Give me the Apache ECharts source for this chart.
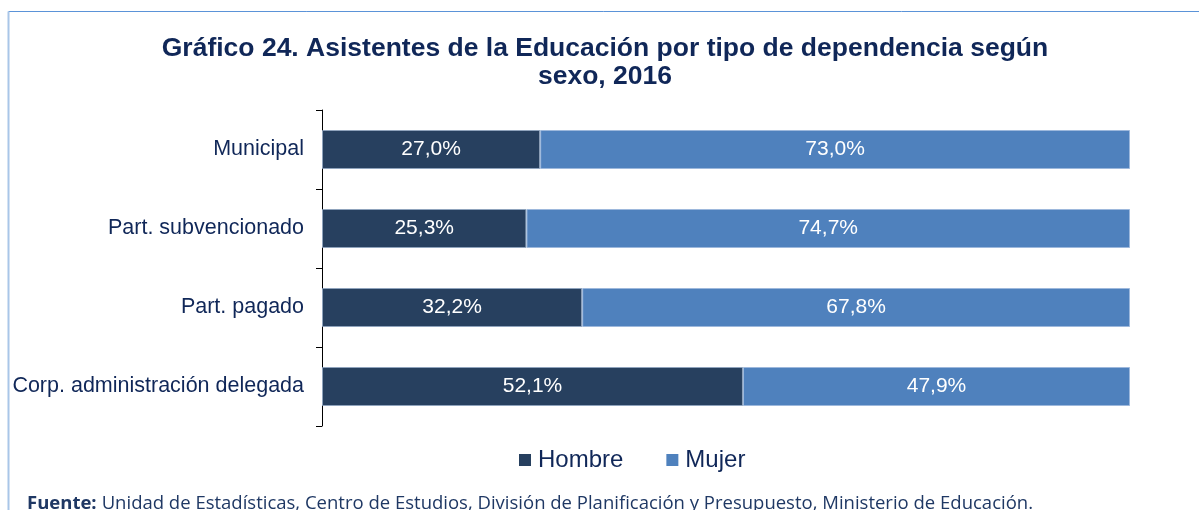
<!DOCTYPE html>
<html>
<head>
<meta charset="utf-8">
<title>Asistentes de la Educación por tipo de dependencia según sexo, 2016</title>
<script src="https://cdn.jsdelivr.net/npm/echarts@6/dist/echarts.min.js"></script>
<style>
  html, body { margin: 0; padding: 0; background: #fff; }
  #chart { width: 1199px; height: 510px; }
</style>
</head>
<body>
<div id="chart"></div>
<script>
// Data
const categories = ['Municipal', 'Part. subvencionado', 'Part. pagado', 'Corp. administración delegada'];
const hombre = [27.0, 25.3, 32.2, 52.1];
const mujer = [73.0, 74.7, 67.8, 47.9];

const navy = '#102758';
const fmt = p => p.value.toFixed(1).replace('.', ',') + '%';

const chart = echarts.init(document.getElementById('chart'));
chart.setOption({
    animation: false,
    textStyle: { fontFamily: 'Liberation Sans, Arial, sans-serif' },
    title: [
        {
            text: 'Gráfico 24. Asistentes de la Educación por tipo de dependencia según\nsexo, 2016',
            left: 600,
            textAlign: 'center',
            top: 30,
            textStyle: { fontSize: 26.5, fontWeight: 'bold', color: navy, lineHeight: 28 }
        },
        {
            text: '{b|Fuente:} {n|Unidad de Estadísticas, Centro de Estudios, División de Planificación y Presupuesto, Ministerio de Educación.}',
            left: 22,
            top: 489,
            textStyle: {
                fontWeight: 'normal',
                rich: {
                    b: { fontFamily: 'Open Sans', fontSize: 18.5, fontWeight: 'bold', color: '#1F3864' },
                    n: { fontFamily: 'Open Sans', fontSize: 18.5, fontWeight: 'normal', color: '#1F3864' }
                }
            }
        }
    ],
    graphic: [
        { type: 'line', shape: { x1: 8.5, y1: 11.5, x2: 1199, y2: 11.5 }, style: { stroke: '#5B93D8', lineWidth: 1 } },
        { type: 'line', shape: { x1: 8.5, y1: 11.5, x2: 8.5, y2: 510 }, style: { stroke: '#A9C6E8', lineWidth: 2 } }
    ],
    legend: {
        bottom: 33,
        left: 514,
        itemWidth: 12,
        itemHeight: 12,
        itemGap: 43,
        icon: 'rect',
        itemStyle: { borderWidth: 0 },
        textStyle: { fontSize: 24, color: navy, padding: [0, 0, 0, 2] },
        data: ['Hombre', 'Mujer']
    },
    grid: { left: 322, right: 69, top: 110, bottom: 84 },
    xAxis: {
        type: 'value',
        min: 0,
        max: 100,
        show: false
    },
    yAxis: {
        type: 'category',
        inverse: true,
        data: categories,
        axisLine: { show: true, lineStyle: { color: '#000', width: 1 } },
        axisTick: { show: true, length: 6, lineStyle: { color: '#000' } },
        axisLabel: { fontSize: 21.5, color: navy, margin: 18 }
    },
    series: [
        {
            name: 'Hombre',
            type: 'bar',
            stack: 'total',
            barWidth: 39,
            data: hombre,
            itemStyle: { color: '#27405F', borderColor: '#8FA3BC', borderWidth: 1 },
            label: { show: true, position: 'inside', color: '#fff', fontSize: 21, formatter: fmt }
        },
        {
            name: 'Mujer',
            type: 'bar',
            stack: 'total',
            barWidth: 39,
            data: mujer,
            itemStyle: { color: '#4F81BD', borderColor: '#9DB8DC', borderWidth: 1 },
            label: { show: true, position: 'inside', color: '#fff', fontSize: 21, formatter: fmt }
        }
    ]
});
</script>
</body>
</html>
